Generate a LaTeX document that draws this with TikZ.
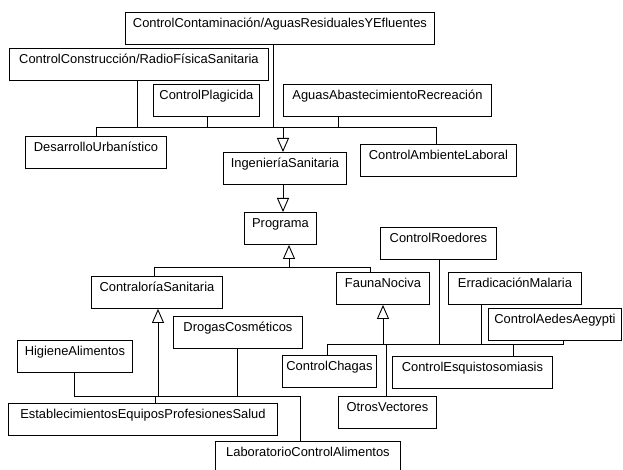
\documentclass[tikz,border=0pt]{standalone}
\usepackage{fontspec}
\setmainfont{Liberation Sans}
\usetikzlibrary{arrows.meta,shadows}

\tikzset{
  cls/.style={draw=black, line width=0.9pt, fill=white, rectangle, anchor=north west,
    inner xsep=2pt, inner ysep=6pt, text height=9pt, text depth=11pt,
    minimum width=#1, font=\fontsize{12.9}{15}\selectfont,
    general shadow={fill=gray!70, shadow xshift=1pt, shadow yshift=-1pt}},
  link/.style={draw=black, line width=0.9pt},
  gen/.style={link, -{Triangle[open, length=14pt, width=12pt, line width=0.9pt]}},
}

\begin{document}
\begin{tikzpicture}[x=1pt, y=-1pt]
\useasboundingbox (0,0) rectangle (623,470);
\clip (0,0) rectangle (623,470);
\fill[white] (0,0) rectangle (623,470);

% class boxes
\node[cls=309pt] (ccont)    at (125,12)  {ControlContaminación/AguasResidualesYEfluentes};
\node[cls=259pt] (ccons)    at (9,48)    {ControlConstrucción/RadioFísicaSanitaria};
\node[cls=106pt] (cplag)    at (153,84)  {ControlPlagicida};
\node[cls=208pt] (aguas)    at (283,84)  {AguasAbastecimientoRecreación};
\node[cls=141pt] (desur)    at (25,136)  {DesarrolloUrbanístico};
\node[cls=123pt] (ingsan)   at (223,152) {IngenieríaSanitaria};
\node[cls=156pt] (camb)     at (360,144) {ControlAmbienteLaboral};
\node[cls=72pt]  (prog)     at (244,212) {Programa};
\node[cls=131pt] (contra)   at (91,276)  {ContraloríaSanitaria};
\node[cls=93pt]  (fauna)    at (336,272) {FaunaNociva};
\node[cls=116pt] (roed)     at (380,227) {ControlRoedores};
\node[cls=133pt] (malaria)  at (448,272) {ErradicaciónMalaria};
\node[cls=133pt] (aedes)    at (488,308) {ControlAedesAegypti};
\node[cls=129pt] (drogas)   at (173,316) {DrogasCosméticos};
\node[cls=115pt] (higiene)  at (17,340)  {HigieneAlimentos};
\node[cls=94pt]  (chagas)   at (282,355) {ControlChagas};
\node[cls=160pt] (esquisto) at (392,356) {ControlEsquistosomiasis};
\node[cls=98pt]  (otros)    at (338,396) {OtrosVectores};
\node[cls=269pt] (estab)    at (8,403)   {EstablecimientosEquiposProfesionesSalud};
\node[cls=185pt] (lab)      at (215,441) {LaboratorioControlAlimentos};

% junctions on the IngenieríaSanitaria bus
\coordinate (jdes)  at (96,127);
\coordinate (jcons) at (137,127);
\coordinate (jplag) at (207,127);
\coordinate (jcont) at (273,127);
\coordinate (jing)  at (283,127);
\coordinate (jagu)  at (338,127);
\coordinate (jamb)  at (436,127);

\draw[link] (jdes |- desur.north) -- (jdes) -- (jamb) -- (jamb |- camb.north);
\draw[link] (jcons |- ccons.south) -- (jcons);
\draw[link] (jplag |- cplag.south) -- (jplag);
\draw[link] (jcont |- ccont.south) -- (jcont);
\draw[link] (jagu |- aguas.south) -- (jagu);
\draw[gen]  (jing) -- (jing |- ingsan.north);
\draw[gen]  (ingsan.south -| jing) -- (prog.north -| jing);

% junctions on the Programa bus
\coordinate (jcontra) at (154,267);
\coordinate (jprog)   at (289,267);
\coordinate (jfauna)  at (370,267);

\draw[link] (jcontra |- contra.north) -- (jcontra) -- (jfauna) -- (jfauna |- fauna.north);
\draw[gen]  (jprog) -- (jprog |- prog.south);

% junctions on the ContraloríaSanitaria bus
\coordinate (jhig)   at (74,396);
\coordinate (jestab) at (155,396);
\coordinate (jcsan)  at (158,396);
\coordinate (jdrog)  at (237,396);
\coordinate (jlab)   at (300,396);

\draw[link] (jhig |- higiene.south) -- (jhig) -- (jlab) -- (jlab |- lab.north);
\draw[link] (jdrog |- drogas.south) -- (jdrog);
\draw[link] (jestab) -- (jestab |- estab.north);
\draw[gen]  (jcsan) -- (jcsan |- contra.south);

% junctions on the FaunaNociva bus
\coordinate (jchag)  at (327,344);
\coordinate (jfau)   at (383,344);
\coordinate (jotros) at (386,344);
\coordinate (jroed)  at (439,344);
\coordinate (jmal)   at (481,344);
\coordinate (jesq)   at (513,344);
\coordinate (jaed)   at (563,344);

\draw[link] (jchag |- chagas.north) -- (jchag) -- (jaed) -- (jaed |- aedes.south);
\draw[link] (jroed |- roed.south) -- (jroed);
\draw[link] (jmal |- malaria.south) -- (jmal);
\draw[link] (jesq) -- (jesq |- esquisto.north);
\draw[link] (jotros) -- (jotros |- otros.north);
\draw[gen]  (jfau) -- (jfau |- fauna.south);
\end{tikzpicture}
\end{document}
